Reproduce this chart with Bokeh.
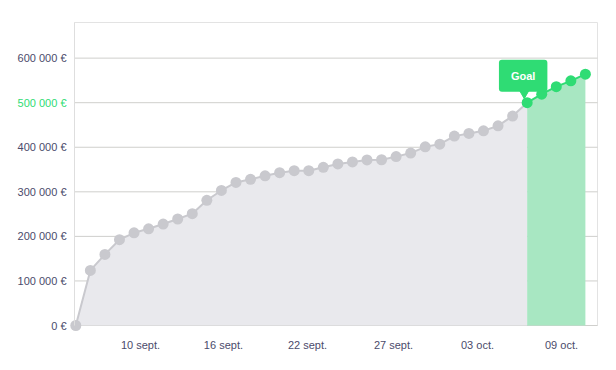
from bokeh.plotting import figure
from bokeh.models import Range1d, FixedTicker, Label, LinearAxis
from bokeh.embed import file_html
from bokeh.resources import INLINE

# ---- data ----
values = [0, 123600, 159600, 192600, 208000, 217000, 227700, 239000, 251000,
          281000, 303000, 321000, 328000, 336000, 343000, 347500, 347500,
          355000, 362500, 367000, 371500, 372000, 379000, 387000, 401000,
          407000, 425000, 431000, 437000, 448000, 470000, 500000, 519000,
          536000, 549000, 564000]
goal_value = 500000
goal_text = "Goal"
x_tick_pos = [4.44, 10.14, 15.91, 21.82, 27.59, 33.36]
x_tick_labels = ["10 sept.", "16 sept.", "22 sept.", "27 sept.", "03 oct.", "09 oct."]
y_ticks = [0, 100000, 200000, 300000, 400000, 500000, 600000]
y_tick_labels = ["0 €", "100 000 €", "200 000 €", "300 000 €", "400 000 €",
                 "500 000 €", "600 000 €"]

idx = list(range(len(values)))
g = values.index(goal_value)

GREEN = "#2fdc74"
GREEN_FILL = "#a8e7c2"
GRAY = "#c9c9ce"
GRAY_FILL = "#e9e9ed"
TXT = "#4b4b6b"
FONT = "Liberation Sans"
FRAME_LINE = "#e3e3e3"

# ---- layout (pixels) ----
W, H = 612, 362
TOP, BOTTOM, RIGHT = 20, 30, 13
DX = 14.56             # px per data point
X0_PX = 75.3           # canvas x of first point
ZERO_PX = 325          # canvas y of the value 0
PLOT_L_PX, PLOT_R_PX = 74, 597
PX_PER_UNIT = 44.56 / 100000
Y_TOP = 680000         # top edge of the chart box

X_START = -X0_PX / DX
X_END = (W - RIGHT - X0_PX) / DX
AXIS_X = (PLOT_L_PX - X0_PX) / DX
RIGHT_X = (PLOT_R_PX - X0_PX) / DX
Y_START = -(H - BOTTOM - ZERO_PX) / PX_PER_UNIT
Y_END = (ZERO_PX - TOP) / PX_PER_UNIT

p = figure(width=W, height=H, output_backend="svg", toolbar_location=None,
           x_range=Range1d(X_START, X_END), y_range=Range1d(Y_START, Y_END),
           y_axis_location=None,
           min_border_left=0, min_border_right=RIGHT, min_border_top=TOP,
           min_border_bottom=BOTTOM)
p.background_fill_color = "white"
p.border_fill_color = "white"
p.outline_line_color = None
p.xgrid.visible = False
p.ygrid.visible = False


def style_axis(ax, standoff):
    ax.major_tick_line_color = None
    ax.minor_tick_line_color = None
    ax.major_tick_out = 0
    ax.major_tick_in = 0
    ax.major_label_standoff = standoff
    ax.major_label_text_font = FONT
    ax.major_label_text_font_size = "11px"
    ax.major_label_text_color = TXT


# chart box and horizontal grid lines
p.quad(left=[AXIS_X], right=[RIGHT_X], bottom=[0], top=[Y_TOP],
       fill_color=None, line_color=FRAME_LINE, line_width=1)
p.segment(x0=[AXIS_X] * len(y_ticks), x1=[RIGHT_X] * len(y_ticks),
          y0=y_ticks, y1=y_ticks, line_color="#cfcfcc", line_width=1)

# y axis (drawn at the left edge of the chart box)
yax = LinearAxis(ticker=FixedTicker(ticks=y_ticks), fixed_location=AXIS_X,
                 bounds=(0, Y_TOP), axis_line_color="#dedede")
yax.major_label_overrides = {t: ("" if t == goal_value else l)
                             for t, l in zip(y_ticks, y_tick_labels)}
style_axis(yax, 8)
p.add_layout(yax, "left")

# green goal tick label
gax = LinearAxis(ticker=FixedTicker(ticks=[goal_value]), fixed_location=AXIS_X,
                 axis_line_color=None)
gax.major_label_overrides = {goal_value: y_tick_labels[y_ticks.index(goal_value)]}
style_axis(gax, 8)
gax.major_label_text_color = GREEN
p.add_layout(gax, "left")

# x axis
p.xaxis.ticker = FixedTicker(ticks=x_tick_pos)
p.xaxis.major_label_overrides = dict(zip(x_tick_pos, x_tick_labels))
p.xaxis.axis_line_color = None
style_axis(p.xaxis[0], 13 - (H - BOTTOM - ZERO_PX))

# areas
p.varea(x=idx[:g + 1], y1=0, y2=values[:g + 1], fill_color=GRAY_FILL)
p.varea(x=idx[g:], y1=0, y2=values[g:], fill_color=GREEN_FILL)

# lines
p.line(idx[:g + 1], values[:g + 1], line_color=GRAY, line_width=2)
p.line(idx[g:], values[g:], line_color=GREEN, line_width=2)

# goal callout pointer
p.scatter(x=[g - 0.2], y=[goal_value + 11 / PX_PER_UNIT], marker="inverted_triangle",
          size=12, fill_color=GREEN, line_color=GREEN)

# markers
p.scatter(idx[:g], values[:g], size=11, fill_color=GRAY, line_color=None)
p.scatter(idx[g:], values[g:], size=11, fill_color=GREEN, line_color=None)

# goal callout box
p.add_layout(Label(x=g, y=goal_value, x_offset=-4, y_offset=27, text=goal_text,
                   text_align="center", text_baseline="middle",
                   text_font=FONT, text_font_size="11px", text_font_style="bold",
                   text_color="white", background_fill_color=GREEN,
                   padding=(12, 10), border_radius=3))

open("out.html", "w").write(file_html(p, INLINE))
